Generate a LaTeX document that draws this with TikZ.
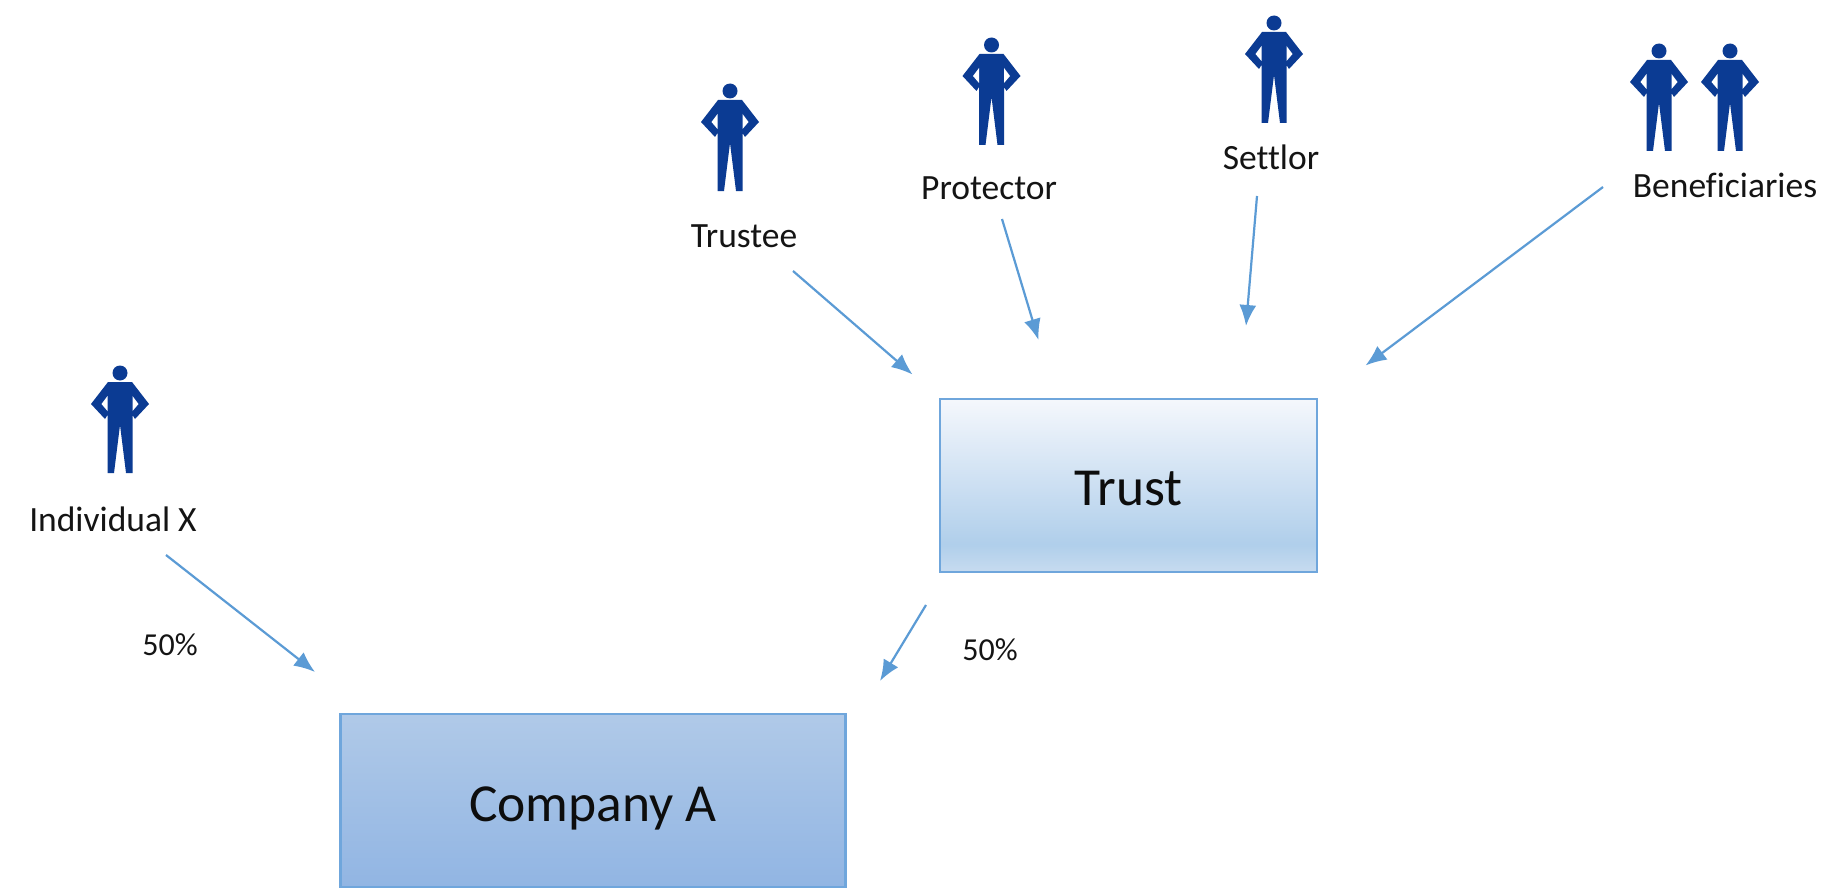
\documentclass[tikz,border=0pt]{standalone}
\usepackage{fontspec}
\setmainfont{Carlito}[Ligatures=CommonOff]
\usetikzlibrary{arrows.meta}
\definecolor{figblue}{HTML}{0B3B93}
\definecolor{edgeblue}{HTML}{6FA6DC}
\definecolor{arrowblue}{HTML}{5B9BD5}
\pgfdeclareverticalshading{trustshade}{100bp}{
  rgb(0bp)=(0.78,0.86,0.94); rgb(25bp)=(0.78,0.86,0.94); rgb(33bp)=(0.69,0.81,0.92); rgb(75bp)=(0.96,0.97,0.99); rgb(100bp)=(0.96,0.97,0.99)}
\pgfdeclareverticalshading{companyshade}{100bp}{
  rgb(0bp)=(0.57,0.71,0.89); rgb(25bp)=(0.57,0.71,0.89); rgb(75bp)=(0.69,0.79,0.91); rgb(100bp)=(0.69,0.79,0.91)}
\tikzset{
  x=1pt,y=-1pt,
  bigbox/.style={draw=edgeblue,line width=2.8pt,rectangle,inner sep=0pt,text depth=0pt},
  bigtext/.style={inner sep=0pt,font=\fontsize{53.5}{60}\selectfont,text=black!95},
  caption/.style={inner sep=0pt,font=\fontsize{35.5}{40}\selectfont,text=black!92},
  link/.style={draw=arrowblue,line width=2.2pt,-{Latex[length=21pt,width=17pt]}},
  person/.pic={
    \fill[figblue] (0,0) circle (7.5);
    \fill[figblue] (-12,9) -- (12,9) -- (29,31) -- (15,46) -- (12.5,42) -- (12.5,100) -- (6,100) -- (0,52) -- (-6,100) -- (-12.5,100) -- (-12.5,42) -- (-15,46) -- (-29,31) -- cycle;
    \fill[white] (-12.5,23) -- (-18.5,31) -- (-12.5,38) -- cycle;
    \fill[white] (12.5,23) -- (18.5,31) -- (12.5,38) -- cycle;
  }
}
\begin{document}
\begin{tikzpicture}
\useasboundingbox (0,0) rectangle (1829,888);
\fill[white] (0,0) rectangle (1829,888);
% boxes
\node[bigbox,shading=trustshade,minimum width=377pt,minimum height=173pt] (trust) at (1128.5,485.5) {};
\node[bigtext] (trustlabel) at (1128.5,489) {Trust};
\node[bigbox,shading=companyshade,minimum width=505pt,minimum height=173pt] (company) at (593,800.5) {};
\node[bigtext] (companylabel) at (593,808) {Company A};
% people
\pic (ptrustee) at (730,91) {person};
\pic (pprotector) at (991.5,45) {person};
\pic (psettlor) at (1274,23) {person};
\pic (pben1) at (1659,51) {person};
\pic (pben2) at (1730,51) {person};
\pic (pindiv) at (120,373) {person};
% labels
\node[caption] (trustee) at (744,236) {Trustee};
\node[caption] (protector) at (989,188) {Protector};
\node[caption] (settlor) at (1271,157) {Settlor};
\node[caption] (beneficiaries) at (1725,185) {Beneficiaries};
\node[caption] (indiv) at (113,519) {Individual X};
\node[caption,font=\fontsize{32}{36}\selectfont] (pctx) at (170,645) {50\%};
\node[caption,font=\fontsize{32}{36}\selectfont] (pctt) at (990,650) {50\%};
% connector ends
\coordinate (a1) at (793,271); \coordinate (b1) at (912.5,374.5);
\coordinate (a2) at (1002,219); \coordinate (b2) at (1038.5,340);
\coordinate (a3) at (1257,196); \coordinate (b3) at (1246,326);
\coordinate (a4) at (1603,187); \coordinate (b4) at (1365.5,365.5);
\coordinate (a5) at (166,555); \coordinate (b5) at (315,672);
\coordinate (a6) at (926,605); \coordinate (b6) at (880,681);
\draw[link] (a1) -- (b1);
\draw[link] (a2) -- (b2);
\draw[link] (a3) -- (b3);
\draw[link] (a4) -- (b4);
\draw[link] (a5) -- (b5);
\draw[link] (a6) -- (b6);
\end{tikzpicture}
\end{document}
